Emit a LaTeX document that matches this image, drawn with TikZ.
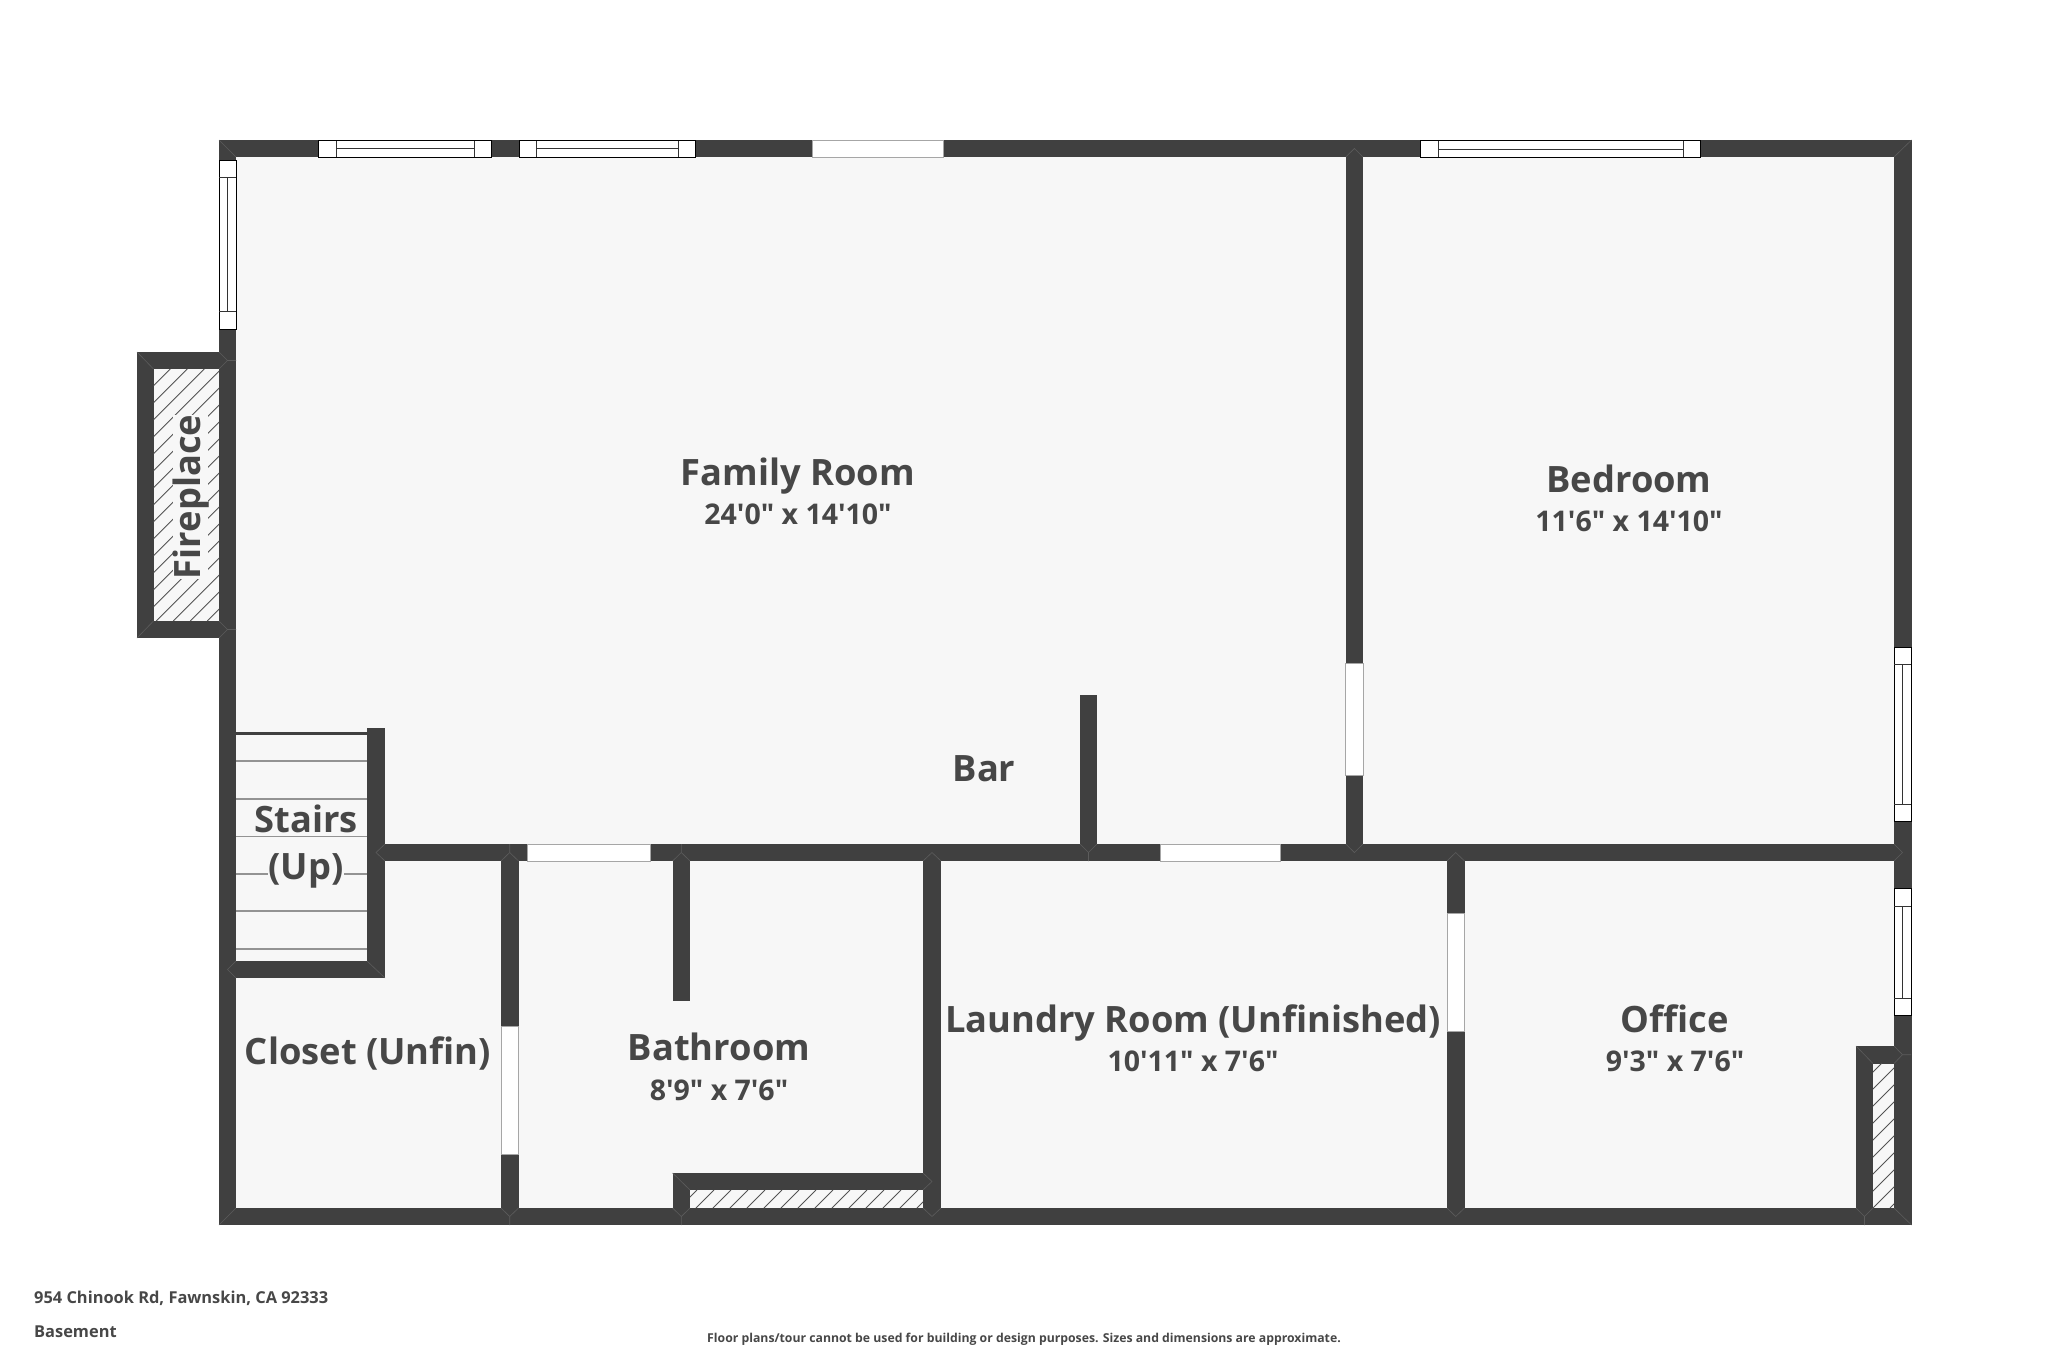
\documentclass[tikz,border=0pt]{standalone}
\usepackage{fontspec}
\newfontfamily\osfont{Open Sans}
\definecolor{wallc}{HTML}{404040}
\definecolor{roomc}{HTML}{F7F7F7}
\definecolor{textc}{HTML}{474747}
\definecolor{seamc}{HTML}{5C5C5C}
\tikzset{
  wall/.style={fill=wallc,draw=none},
  room/.style={fill=roomc,draw=none},
  doorway/.style={fill=white,draw=gray!70,line width=0.8pt},
  winbox/.style={fill=white,draw=black,line width=1pt},
  winline/.style={draw=black!80,line width=1pt},
  tread/.style={draw=gray!85,line width=1.5pt},
  seam/.style={draw=seamc,line width=0.6pt},
  hatchline/.style={draw=wallc!90,line width=0.9pt},
  titlelabel/.style={text=textc,font=\osfont\fontsize{36.3}{40}\selectfont\bfseries,inner sep=1pt},
  dimlabel/.style={text=textc,font=\osfont\fontsize{28.5}{32}\selectfont\bfseries,inner sep=1pt},
  foot/.style={text=textc,font=\osfont\fontsize{16.4}{19}\selectfont\bfseries,inner sep=0pt,anchor=west},
  fine/.style={text=textc,font=\osfont\fontsize{12.25}{14}\selectfont\bfseries,inner sep=0pt}
}
\newcommand{\hwindow}[5]{% x0 x1 x2 x3 y-mid
  \draw[winbox] (#1,140.5) rectangle (#4,157);
  \draw[winline] (#2,140.5) -- (#2,157) (#3,140.5) -- (#3,157) (#2,#5) -- (#3,#5);
}
\newcommand{\vwindow}[6]{% xa xb y0 y1 y2 y3
  \draw[winbox] (#1,#3) rectangle (#2,#6);
  \draw[winline] (#1,#4) -- (#2,#4) (#1,#5) -- (#2,#5) ({(#1+#2)/2},#4) -- ({(#1+#2)/2},#5);
}
\newcommand{\hatchbox}[5]{% x0 y0 x1 y1 phase
  \begin{scope}
    \clip (#1,#2) rectangle (#3,#4);
    \foreach \k in {0,...,185} {
      \draw[hatchline] ({#5+\k*17-#4},#4) -- ({#5+\k*17-#2},#2);
    }
  \end{scope}
}
\begin{document}
\begin{tikzpicture}[x=1pt,y=-1pt]
\useasboundingbox (0,0) rectangle (2048,1365);
\fill[white] (0,0) rectangle (2048,1365);
% floor
\fill[room] (219,140) rectangle (1911.5,1225);
\fill[room] (137,352) rectangle (236,638);
% outer walls
\fill[wall] (219,140) rectangle (1911.5,157);
\fill[wall] (219,1208) rectangle (1911.5,1225);
\fill[wall] (219,140) rectangle (236,1225);
\fill[wall] (1894,140) rectangle (1911.5,1225);
% fireplace
\fill[wall] (137,352) rectangle (236,369);
\fill[wall] (137,621) rectangle (236,638);
\fill[wall] (137,352) rectangle (153.5,638);
\hatchbox{153.5}{369}{219}{621}{12.3}
% interior walls
\fill[wall] (385,844) rectangle (1911.5,861);
\fill[wall] (1345.7,140) rectangle (1363,861);
\fill[wall] (1080,695) rectangle (1097,861);
\fill[wall] (367,728) rectangle (385,978);
\fill[wall] (236,961) rectangle (385,978);
\fill[wall] (236,732) rectangle (367,735);
\fill[wall] (501,844) rectangle (518.5,1225);
\fill[wall] (672.6,844) rectangle (690,1001);
\fill[wall] (923,844) rectangle (941,1225);
\fill[wall] (672.6,1173) rectangle (923,1190);
\fill[wall] (672.6,1173) rectangle (690,1225);
\fill[wall] (1447,844) rectangle (1464.5,1225);
\fill[wall] (1856,1046) rectangle (1873,1225);
\fill[wall] (1856,1046) rectangle (1911,1063.5);
% hatches
\hatchbox{690}{1190}{923}{1208}{0}
\hatchbox{1873}{1063.5}{1894}{1208}{4}
% stairs
\foreach \yy in {761,799,836.5,874,911,949} {\draw[tread] (236,\yy) -- (367,\yy);}
% doorways
\draw[doorway] (812,140.5) rectangle (943,157);
\draw[doorway] (527,844) rectangle (650,861);
\draw[doorway] (1160,844) rectangle (1280,861);
\draw[doorway] (501,1026) rectangle (518.5,1154.5);
\draw[doorway] (1345.7,663.5) rectangle (1363,775);
\draw[doorway] (1447,913) rectangle (1464.5,1031);
% windows
\hwindow{318.5}{336}{474.5}{491}{148.6}
\hwindow{519.5}{536.5}{678}{695}{148.6}
\hwindow{1420.4}{1438}{1683.7}{1700.4}{149}
\vwindow{219}{236}{160}{177}{311}{329}
\vwindow{1894}{1911}{647.7}{664.7}{804.6}{821.6}
\vwindow{1894}{1911}{888.8}{906}{998.6}{1015}
% seams at wall joints
\draw[seam] (219,140) -- (236,157) (1911.5,140) -- (1894,157) (219,1225) -- (236,1208) (1911.5,1225) -- (1894,1208);
\draw[seam] (137,352) -- (153.5,369) (137,638) -- (153.5,621);
\draw[seam] (219,369) -- (227.5,360.5) -- (219,352) (227.5,360.5) -- (236,360.5);
\draw[seam] (219,621) -- (227.5,629.5) -- (219,638) (227.5,629.5) -- (236,629.5);
\draw[seam] (1345.7,157) -- (1354.4,148.5) -- (1363,157) (1345.7,844) -- (1354.4,852.5) -- (1363,844);
\draw[seam] (501,861) -- (509.7,852.5) -- (518.5,861) (509.7,852.5) -- (509.7,844) (501,1208) -- (509.7,1216.5) -- (518.5,1208) (509.7,1216.5) -- (509.7,1225);
\draw[seam] (672.6,861) -- (681.3,852.5) -- (690,861) (681.3,852.5) -- (681.3,844) (672.6,1208) -- (681.3,1216.5) -- (690,1208) (681.3,1216.5) -- (681.3,1225);
\draw[seam] (923,861) -- (932,852.5) -- (941,861) (923,1208) -- (932,1216.5) -- (941,1208);
\draw[seam] (1447,861) -- (1455.7,852.5) -- (1464.5,861) (1447,1208) -- (1455.7,1216.5) -- (1464.5,1208);
\draw[seam] (1080,844) -- (1088.5,852.5) -- (1097,844) (1088.5,852.5) -- (1088.5,861);
\draw[seam] (1894,844) -- (1902.5,852.5) -- (1894,861);
\draw[seam] (236,961) -- (227.5,969.5) -- (236,978) (367,961) -- (385,978);
\draw[seam] (385,844) -- (376,852.5) -- (385,861);
\draw[seam] (672.6,1173) -- (690,1190) (923,1173) -- (932,1181.5) -- (923,1190);
\draw[seam] (1856,1046) -- (1873,1063.5) (1894,1046) -- (1902.5,1054.7) -- (1894,1063.5) (1902.5,1054.7) -- (1911,1054.7) (1856,1208) -- (1864.5,1216.5) -- (1873,1208) (1864.5,1216.5) -- (1864.5,1225);
% labels
\node[titlelabel] (family) at (798,476) {Family Room};
\node[dimlabel] (familydim) at (798,514.3) {24'0" x 14'10"};
\node[titlelabel] (bedroom) at (1629,479) {Bedroom};
\node[dimlabel] (bedroomdim) at (1629,521) {11'6" x 14'10"};
\node[titlelabel] (bar) at (984,769) {Bar};
\node[titlelabel,fill=roomc,anchor=base,text height=27pt,text depth=0pt,inner sep=0pt] (stairs) at (306,832) {Stairs};
\node[titlelabel,fill=roomc,anchor=base,text height=27pt,text depth=9pt,inner sep=0pt] (up) at (306,879) {(Up)};
\node[titlelabel] (closet) at (368,1053.6) {Closet (Unfin)};
\node[titlelabel] (bath) at (719,1047) {Bathroom};
\node[dimlabel] (bathdim) at (719,1090) {8'9" x 7'6"};
\node[titlelabel] (laundry) at (1193,1022.6) {Laundry Room (Unfinished)};
\node[dimlabel] (laundrydim) at (1193,1061) {10'11" x 7'6"};
\node[titlelabel] (office) at (1675,1018.6) {Office};
\node[dimlabel] (officedim) at (1675,1061) {9'3" x 7'6"};
\node[titlelabel,rotate=90,fill=roomc,anchor=base,text height=27pt,text depth=8pt,inner sep=0pt] (fireplace) at (200,497) {Fireplace};
\node[foot] (addr) at (34,1298) {954 Chinook Rd, Fawnskin, CA 92333};
\node[foot] (level) at (34,1332) {Basement};
\node[fine] (disc) at (1024,1339) {Floor plans/tour cannot be used for building or design purposes. Sizes and dimensions are approximate.};
\end{tikzpicture}
\end{document}
